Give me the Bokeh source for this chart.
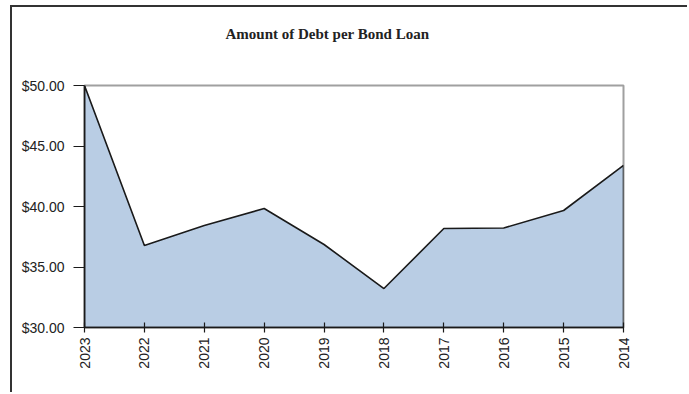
import math
from bokeh.plotting import figure
from bokeh.models import Range1d, FixedTicker, NumeralTickFormatter, Title
from bokeh.embed import file_html
from bokeh.resources import INLINE

years = ["2023", "2022", "2021", "2020", "2019", "2018", "2017", "2016", "2015", "2014"]
debt = [50.00, 36.78, 38.43, 39.83, 36.86, 33.22, 38.18, 38.22, 39.67, 43.39]
y_ticks = [30, 35, 40, 45, 50]
title_text = "Amount of Debt per Bond Loan"

xs = list(range(len(years)))
base = min(y_ticks)

p = figure(frame_width=539, frame_height=242,
           min_border_left=72, min_border_right=64,
           min_border_top=78, min_border_bottom=65,
           x_range=Range1d(0, len(years) - 1), y_range=Range1d(min(y_ticks), max(y_ticks)),
           output_backend="svg", toolbar_location=None)
p.styles = {"border-left": "2px solid #333333", "border-top": "2px solid #333333",
            "margin-left": "10px", "margin-top": "5px"}

p.patch(xs + [xs[-1], xs[0]], debt + [base, base],
        fill_color="#b9cde4", line_color="#1a1a1a", line_width=1.6)

p.xgrid.visible = False
p.ygrid.visible = False
p.outline_line_color = "#a0a0a0"
p.outline_line_width = 2

p.xaxis.ticker = FixedTicker(ticks=xs)
p.xaxis.major_label_overrides = {i: y for i, y in enumerate(years)}
p.xaxis.major_label_orientation = math.pi / 2
p.xaxis.major_tick_in = 5
p.xaxis.major_tick_out = 5
p.xaxis.minor_tick_line_color = None

p.yaxis.ticker = FixedTicker(ticks=y_ticks)
p.yaxis.formatter = NumeralTickFormatter(format="$0.00")
p.yaxis.major_tick_in = 0
p.yaxis.major_tick_out = 11
p.yaxis.minor_tick_line_color = None
p.yaxis.major_label_standoff = 9

for ax in (p.xaxis[0], p.yaxis[0]):
    ax.axis_line_color = "#1a1a1a"
    ax.axis_line_width = 1.5
    ax.major_tick_line_color = "#1a1a1a"
    ax.major_tick_line_width = 1.2
    ax.major_label_text_font = "Liberation Sans"
    ax.major_label_text_font_size = "14px"
    ax.major_label_text_color = "#222222"

# spacer between frame and title (closest to the frame)
p.add_layout(Title(text=" ", standoff=20, text_font_size="15px"), "above")
p.add_layout(Title(text=title_text, align="left", offset=141, standoff=10,
                   text_font="Liberation Serif", text_font_style="bold",
                   text_font_size="15px", text_color="#222222"), "above")

open("out.html", "w").write(file_html(p, INLINE))
